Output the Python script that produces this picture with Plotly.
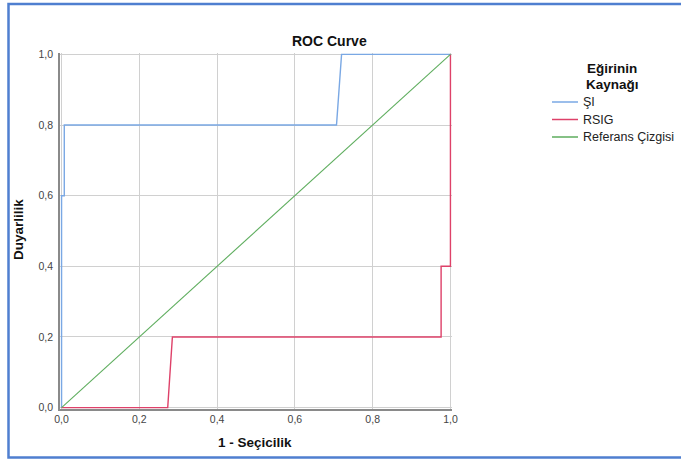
import plotly.graph_objects as go

# Data
si_x = [0.0, 0.0, 0.007, 0.007, 0.707, 0.72, 1.0]
si_y = [0.0, 0.6, 0.6, 0.8, 0.8, 1.0, 1.0]
rsig_x = [0.0, 0.273, 0.285, 0.976, 0.976, 1.0, 1.0]
rsig_y = [0.0, 0.0, 0.2, 0.2, 0.4, 0.4, 1.0]
ref_x = [0.0, 1.0]
ref_y = [0.0, 1.0]
tick_vals = [0.0, 0.2, 0.4, 0.6, 0.8, 1.0]
tick_text = ["0,0", "0,2", "0,4", "0,6", "0,8", "1,0"]
series_names = ["ŞI", "RSIG", "Referans Çizgisi"]
legend_title_lines = ["Eğirinin", "Kaynağı"]

W, H = 681, 462
L, R, T, B = 60, 229, 53, 53
pw, ph = W - L - R, H - T - B

def px(xpix):
    return (xpix - L) / pw

def py(ypix):
    return (H - B - ypix) / ph

font_family = "Liberation Sans, Arial, sans-serif"
colors = ["#7AA8E4", "#DE4169", "#5EAD5E"]
widths = [1.4, 1.4, 1.1]

fig = go.Figure()
for xs, ys, name, c, w in zip([si_x, rsig_x, ref_x], [si_y, rsig_y, ref_y],
                              series_names, colors, widths):
    fig.add_trace(go.Scatter(x=xs, y=ys, mode="lines", name=name,
                             line=dict(color=c, width=w)))

axis_common = dict(
    range=[-0.004, 1.004], tickvals=tick_vals, ticktext=tick_text,
    showgrid=True, gridcolor="#D0D0D0", gridwidth=1,
    zeroline=False, showline=True, linecolor="#8A8A8A", linewidth=1.5,
    ticks="", tickfont=dict(size=10.5, color="#444444"), automargin=False,
)

fig.update_layout(
    width=W, height=H,
    margin=dict(l=L, r=R, t=T, b=B),
    paper_bgcolor="white", plot_bgcolor="white",
    font=dict(family=font_family, size=11, color="#333333"),
    xaxis=dict(**axis_common),
    yaxis=dict(**axis_common, ticklabelstandoff=3),
    showlegend=False,
)

# title and axis titles
fig.add_annotation(text="<b>ROC Curve</b>", xref="paper", yref="paper",
                   x=px(329), y=py(41), xanchor="center", yanchor="middle",
                   showarrow=False, font=dict(size=14, color="#111111"))
fig.add_annotation(text="<b>1 - Seçicilik</b>", xref="paper", yref="paper",
                   x=px(255), y=py(442), xanchor="center", yanchor="middle",
                   showarrow=False, font=dict(size=13.5, color="#111111"))
fig.add_annotation(text="<b>Duyarlilik</b>", xref="paper", yref="paper",
                   x=px(18), y=py(230), xanchor="center", yanchor="middle",
                   textangle=-90, showarrow=False,
                   font=dict(size=13.5, color="#111111"))

# legend (drawn manually so it does not push the margins)
for i, t in enumerate(legend_title_lines):
    fig.add_annotation(text=f"<b>{t}</b>", xref="paper", yref="paper",
                       x=px(612), y=py(68 + 16 * i), xanchor="center", yanchor="middle",
                       showarrow=False, font=dict(size=13.5, color="#111111"))
for i, (name, c) in enumerate(zip(series_names, colors)):
    yy = 102 + 17.5 * i
    fig.add_shape(type="line", xref="paper", yref="paper",
                  x0=px(552), x1=px(578), y0=py(yy), y1=py(yy),
                  line=dict(color=c, width=1.5))
    fig.add_annotation(text=name, xref="paper", yref="paper",
                       x=px(581), y=py(yy), xanchor="left", yanchor="middle",
                       showarrow=False, font=dict(size=12.5, color="#222222"))

# outer blue frame (right edge lies beyond the visible area)
fig.add_shape(type="rect", xref="paper", yref="paper",
              x0=px(8.5), x1=px(695), y0=py(457.5), y1=py(4),
              line=dict(color="#4F7FD0", width=2.5), layer="below")

fig.write_html("out.html", config={"displayModeBar": False},
               post_script="document.body.style.margin='0';document.body.style.overflow='hidden';")
